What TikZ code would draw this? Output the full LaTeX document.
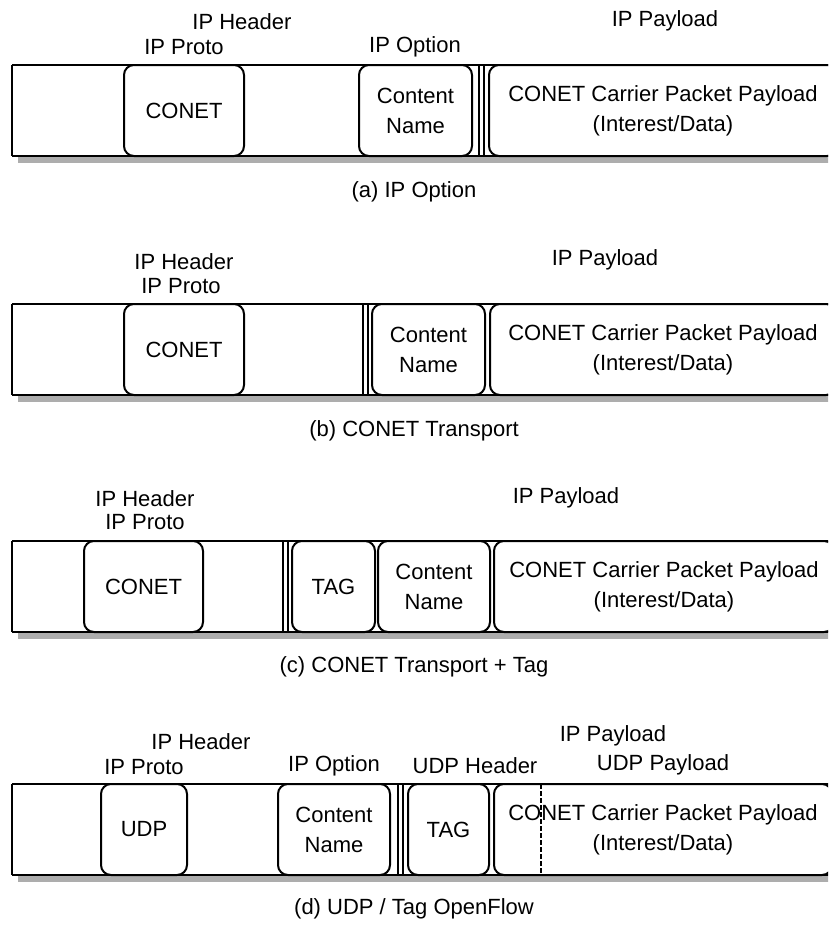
\documentclass[tikz,border=0pt]{standalone}
\usepackage{fontspec}
\setmainfont{Liberation Sans}
\begin{document}
\begin{tikzpicture}[x=1pt,y=-1pt,
  every node/.style={font=\fontsize{22}{30}\selectfont},
  lbl/.style={anchor=base,inner sep=0pt},
  pbox/.style={draw,line width=2pt,rounded corners=10pt,align=center,inner sep=0pt,minimum height=91pt},
  band/.style={line width=2.6pt},
  bandleft/.style={line width=1.5pt},
  shadow/.style={fill=black!32},
  dbl/.style={line width=2.2pt},
  cut/.style={line width=1.2pt,dash pattern=on 5pt off 2pt}]
\useasboundingbox (0,0) rectangle (828,927);
\clip (0,0) rectangle (828,927);
% Panel (a)
\fill[shadow] (18,157) rectangle (840,163);
\draw[band] (12,65) -- (840,65) (12,156) -- (840,156);
\draw[bandleft] (12,65) -- (12,156);
\node[lbl] (aHdr) at (242,29) {IP Header};
\node[lbl] (aProto) at (184,54) {IP Proto};
\node[lbl] (aOpt) at (415,52) {IP Option};
\node[lbl] (aPay) at (665,26) {IP Payload};
\node[pbox,minimum width=120pt] (aConet) at (184,110.5) {CONET};
\node[pbox,minimum width=113pt] (aName) at (415.5,110.5) {Content\\Name};
\draw[dbl] (479,65) -- (479,156) (484,65) -- (484,156);
\node[pbox,minimum width=348pt] (aLoad) at (663,110.5) {CONET Carrier Packet Payload\\(Interest/Data)};
\node[lbl] (aCap) at (414,197) {(a) IP Option};
% Panel (b)
\fill[shadow] (18,396) rectangle (840,402);
\draw[band] (12,304) -- (840,304) (12,395) -- (840,395);
\draw[bandleft] (12,304) -- (12,395);
\node[lbl] (bHdr) at (184,269) {IP Header};
\node[lbl] (bProto) at (181,293) {IP Proto};
\node[lbl] (bPay) at (605,265) {IP Payload};
\node[pbox,minimum width=120pt] (bConet) at (184,349.5) {CONET};
\draw[dbl] (363,304) -- (363,395) (368,304) -- (368,395);
\node[pbox,minimum width=113pt] (bName) at (428.5,349.5) {Content\\Name};
\node[pbox,minimum width=346pt] (bLoad) at (663,349.5) {CONET Carrier Packet Payload\\(Interest/Data)};
\node[lbl] (bCap) at (414,436) {(b) CONET Transport};
% Panel (c)
\fill[shadow] (18,633) rectangle (840,639);
\draw[band] (12,541) -- (840,541) (12,632) -- (840,632);
\draw[bandleft] (12,541) -- (12,632);
\node[lbl] (cHdr) at (145,506) {IP Header};
\node[lbl] (cProto) at (145,529) {IP Proto};
\node[lbl] (cPay) at (566,503) {IP Payload};
\node[pbox,minimum width=119pt] (cConet) at (143.5,586.5) {CONET};
\draw[dbl] (283,541) -- (283,632) (288,541) -- (288,632);
\node[pbox,minimum width=83pt] (cTag) at (333.5,586.5) {TAG};
\node[pbox,minimum width=112pt] (cName) at (434,586.5) {Content\\Name};
\node[pbox,minimum width=340pt] (cLoad) at (664,586.5) {CONET Carrier Packet Payload\\(Interest/Data)};
\node[lbl] (cCap) at (414,672) {(c) CONET Transport + Tag};
% Panel (d)
\fill[shadow] (18,876) rectangle (840,882);
\draw[band] (12,784) -- (840,784) (12,875) -- (840,875);
\draw[bandleft] (12,784) -- (12,875);
\node[lbl] (dHdr) at (201,749) {IP Header};
\node[lbl] (dProto) at (144,774) {IP Proto};
\node[lbl] (dOpt) at (334,771) {IP Option};
\node[lbl] (dUdpH) at (475,773) {UDP Header};
\node[lbl] (dPay) at (613,741) {IP Payload};
\node[lbl] (dUdpP) at (663,770) {UDP Payload};
\node[pbox,minimum width=86pt] (dUdp) at (144,829.5) {UDP};
\node[pbox,minimum width=112pt] (dName) at (334,829.5) {Content\\Name};
\draw[dbl] (398,784) -- (398,875) (403,784) -- (403,875);
\node[pbox,minimum width=81pt] (dTag) at (448.5,829.5) {TAG};
\node[pbox,minimum width=338pt] (dLoad) at (663,829.5) {CONET Carrier Packet Payload\\(Interest/Data)};
\draw[cut] (541,784) -- (541,875);
\node[lbl] (dCap) at (414,914) {(d) UDP / Tag OpenFlow};
\end{tikzpicture}
\end{document}
